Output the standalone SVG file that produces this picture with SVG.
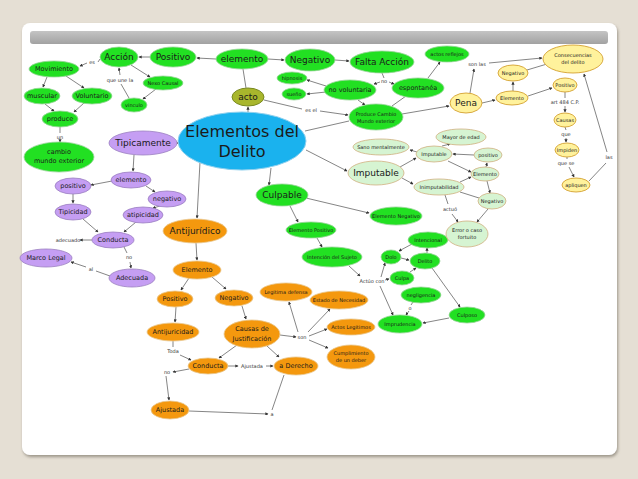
<svg xmlns="http://www.w3.org/2000/svg" width="638" height="479" viewBox="0 0 638 479">
<defs>
<marker id="a" viewBox="0 0 6 6" refX="5" refY="3" markerWidth="4" markerHeight="4" orient="auto"><path d="M0,0L6,3L0,6z" fill="#333"/></marker>
<linearGradient id="bar" x1="0" y1="0" x2="0" y2="1"><stop offset="0" stop-color="#c4c4c4"/><stop offset="1" stop-color="#a2a2a2"/></linearGradient>
<filter id="sh" x="-5%" y="-5%" width="110%" height="115%"><feDropShadow dx="1" dy="2" stdDeviation="1.5" flood-color="#8a8478" flood-opacity="0.8"/></filter>
</defs>
<style>
text{font-family:Verdana,"DejaVu Sans",sans-serif;text-anchor:middle;dominant-baseline:central;fill:#1a1a1a}
.c line,.c path{stroke:#666;stroke-width:0.8;fill:none}
.ar{marker-end:url(#a)}
.g ellipse{fill:#22e022;stroke:#9ad49a;stroke-width:0.8}
.p ellipse{fill:#c59ef3;stroke:#9a7fc0;stroke-width:0.8}
.o ellipse{fill:#f4980e;stroke:#e8c890;stroke-width:0.8}
.y ellipse{fill:#fff29c;stroke:#d4a030;stroke-width:0.9}
.l ellipse{fill:#d6f4d2;stroke:#d0b080;stroke-width:0.8}
.s{font-size:5px}.m{font-size:6.5px}.b{font-size:9px}.lb{font-size:5px;fill:#333}
</style>
<rect width="638" height="479" fill="#e5dfd4"/>
<rect x="22" y="23" width="595" height="432" rx="8" fill="#fff" filter="url(#sh)"/>
<rect x="30" y="31" width="578" height="13" rx="3" fill="url(#bar)"/>

<g class="c">
<line class="ar" x1="150" y1="57" x2="139" y2="57"/>
<line class="ar" x1="216" y1="59" x2="197" y2="58"/>
<line class="ar" x1="268" y1="59" x2="284" y2="60"/>
<line class="ar" x1="335" y1="60" x2="349" y2="61"/>
<line x1="100" y1="59" x2="98" y2="62"/><line class="ar" x1="87" y1="63" x2="80" y2="66"/>
<line class="ar" x1="131" y1="65" x2="150" y2="77"/>
<line x1="129" y1="98" x2="121" y2="84"/><line class="ar" x1="120" y1="75" x2="119" y2="68"/>
<line class="ar" x1="156" y1="89" x2="143" y2="99"/>
<line class="ar" x1="47" y1="77" x2="43" y2="87"/>
<line class="ar" x1="66" y1="76" x2="84" y2="88"/>
<line class="ar" x1="45" y1="104" x2="54" y2="111"/>
<line class="ar" x1="84" y1="103" x2="74" y2="112"/>
<line x1="60" y1="127" x2="60" y2="133"/><line class="ar" x1="60" y1="140" x2="60" y2="142"/>
<line x1="243" y1="69" x2="246" y2="88"/>
<line class="ar" x1="248" y1="113" x2="248" y2="107"/>
<line x1="264" y1="100" x2="302" y2="109"/><line class="ar" x1="320" y1="111" x2="348" y2="115"/>
<line x1="382" y1="73" x2="384" y2="78"/><line class="ar" x1="380" y1="82" x2="374" y2="84"/><line class="ar" x1="389" y1="82" x2="394" y2="84"/>
<line class="ar" x1="326" y1="86" x2="307" y2="80"/>
<line class="ar" x1="326" y1="92" x2="307" y2="94"/>
<line class="ar" x1="358" y1="100" x2="365" y2="105"/>
<line class="ar" x1="428" y1="78" x2="440" y2="62"/>
<line x1="406" y1="96" x2="392" y2="106"/>
<line class="ar" x1="402" y1="114" x2="449" y2="106"/>
<line class="ar" x1="470" y1="93" x2="474" y2="69"/><line class="ar" x1="489" y1="63" x2="542" y2="58"/>
<line class="ar" x1="482" y1="103" x2="495" y2="100"/>
<line class="ar" x1="513" y1="91" x2="513" y2="82"/>
<line x1="527" y1="70" x2="547" y2="64"/>
<line class="ar" x1="528" y1="96" x2="552" y2="88"/>
<line x1="565" y1="92" x2="565" y2="98"/><line class="ar" x1="565" y1="106" x2="565" y2="112"/>
<line x1="565" y1="127" x2="566" y2="130"/><line class="ar" x1="566" y1="138" x2="566" y2="142"/>
<line x1="567" y1="157" x2="567" y2="159"/><line class="ar" x1="569" y1="167" x2="574" y2="177"/>
<line x1="589" y1="181" x2="606" y2="163"/><line class="ar" x1="607" y1="152" x2="584" y2="74"/>
<line x1="305" y1="131" x2="349" y2="121"/>
<line class="ar" x1="306" y1="150" x2="347" y2="171"/>
<line class="ar" x1="400" y1="167" x2="416" y2="158"/>
<line class="ar" x1="402" y1="178" x2="413" y2="184"/>
<line class="ar" x1="417" y1="152" x2="410" y2="150"/>
<line class="ar" x1="442" y1="146" x2="450" y2="144"/>
<line class="ar" x1="474" y1="155" x2="453" y2="154"/>
<line class="ar" x1="448" y1="161" x2="471" y2="172"/>
<line class="ar" x1="486" y1="167" x2="487" y2="163"/>
<line class="ar" x1="460" y1="182" x2="471" y2="177"/>
<line class="ar" x1="487" y1="181" x2="490" y2="193"/>
<line x1="479" y1="198" x2="460" y2="192"/>
<line class="ar" x1="488" y1="209" x2="477" y2="222"/>
<line x1="445" y1="195" x2="448" y2="204"/><line class="ar" x1="452" y1="214" x2="458" y2="222"/>
<line class="ar" x1="271" y1="168" x2="269" y2="185"/>
<line class="ar" x1="306" y1="198" x2="369" y2="213"/>
<line class="ar" x1="290" y1="206" x2="298" y2="222"/>
<line class="ar" x1="317" y1="238" x2="322" y2="247"/>
<line class="ar" x1="349" y1="266" x2="360" y2="276"/>
<line class="ar" x1="381" y1="277" x2="385" y2="263"/>
<line class="ar" x1="385" y1="280" x2="389" y2="279"/>
<line class="ar" x1="380" y1="286" x2="393" y2="315"/>
<line class="ar" x1="401" y1="258" x2="409" y2="260"/>
<line class="ar" x1="412" y1="244" x2="399" y2="251"/>
<line class="ar" x1="427" y1="253" x2="427" y2="248"/>
<line class="ar" x1="410" y1="272" x2="416" y2="268"/>
<line x1="413" y1="302" x2="411" y2="305"/><line class="ar" x1="409" y1="311" x2="406" y2="315"/>
<line class="ar" x1="432" y1="268" x2="460" y2="307"/>
<line class="ar" x1="449" y1="318" x2="423" y2="323"/>
<line class="ar" x1="182" y1="143" x2="177" y2="143"/>
<line class="ar" x1="134" y1="155" x2="133" y2="171"/>
<line class="ar" x1="112" y1="181" x2="91" y2="185"/>
<line class="ar" x1="146" y1="186" x2="155" y2="192"/>
<line class="ar" x1="160" y1="206" x2="153" y2="208"/>
<line class="ar" x1="73" y1="194" x2="73" y2="203"/>
<line class="ar" x1="83" y1="219" x2="98" y2="232"/>
<line class="ar" x1="136" y1="222" x2="124" y2="232"/>
<line class="ar" x1="92" y1="240" x2="80" y2="240"/>
<line x1="124" y1="247" x2="127" y2="253"/><line class="ar" x1="130" y1="262" x2="131" y2="268"/>
<line x1="110" y1="276" x2="96" y2="271"/><line class="ar" x1="86" y1="267" x2="71" y2="262"/>
<line class="ar" x1="200" y1="162" x2="197" y2="218"/>
<line class="ar" x1="196" y1="243" x2="197" y2="260"/>
<line class="ar" x1="189" y1="278" x2="181" y2="290"/>
<line class="ar" x1="212" y1="277" x2="226" y2="289"/>
<line class="ar" x1="176" y1="307" x2="175" y2="322"/>
<line class="ar" x1="242" y1="306" x2="246" y2="319"/>
<line x1="173" y1="341" x2="173" y2="347"/><line class="ar" x1="180" y1="355" x2="191" y2="360"/>
<line class="ar" x1="237" y1="345" x2="219" y2="358"/>
<line class="ar" x1="267" y1="346" x2="279" y2="357"/>
<line class="ar" x1="228" y1="366" x2="238" y2="366"/><line class="ar" x1="266" y1="366" x2="273" y2="366"/>
<line class="ar" x1="189" y1="369" x2="173" y2="372"/><line class="ar" x1="166" y1="376" x2="169" y2="400"/>
<line class="ar" x1="189" y1="411" x2="268" y2="414"/><line x1="284" y1="375" x2="272" y2="410"/>
<line class="ar" x1="280" y1="335" x2="296" y2="337"/>
<line class="ar" x1="298" y1="332" x2="289" y2="302"/>
<line class="ar" x1="308" y1="332" x2="330" y2="309"/>
<line class="ar" x1="309" y1="336" x2="327" y2="329"/>
<line class="ar" x1="309" y1="340" x2="328" y2="348"/>
</g>

<g class="lbls">
<text class="lb" x="92" y="62">es</text>
<text class="lb" x="120" y="80">que une la</text>
<text class="lb" x="60" y="137">un</text>
<text class="lb" x="384" y="81">no</text>
<text class="lb" x="311" y="110">es el</text>
<text class="lb" x="477" y="64">son las</text>
<text class="lb" x="565" y="102">art 484 C.P.</text>
<text class="lb" x="566" y="134">que</text>
<text class="lb" x="566" y="163">que se</text>
<text class="lb" x="609" y="157">las</text>
<text class="lb" x="450" y="209">actuó</text>
<text class="lb" x="372" y="281">Actúo con</text>
<text class="lb" x="410" y="308">o</text>
<text class="lb" x="68" y="240">adecuado</text>
<text class="lb" x="129" y="257">no</text>
<text class="lb" x="91" y="269">al</text>
<text class="lb" x="173" y="351">Toda</text>
<text class="lb" x="167" y="372">no</text>
<text class="lb" x="252" y="366">Ajustada</text>
<text class="lb" x="302" y="337">son</text>
<text class="lb" x="272" y="414">a</text>
</g>

<g id="elementos-del-delito"><ellipse cx="242" cy="141" rx="64" ry="29" fill="#1ab2ee" stroke="#8fd0ee"/><text x="242" y="131" style="font-size:16px">Elementos del</text><text x="242" y="151" style="font-size:16px">Delito</text></g>

<g class="g">
<g id="accion"><ellipse cx="119" cy="57" rx="19" ry="10"/><text class="b" x="119" y="57">Acción</text></g>
<g id="positivo-g"><ellipse cx="173" cy="57" rx="23" ry="10"/><text class="b" x="173" y="57">Positivo</text></g>
<g id="elemento-g"><ellipse cx="242" cy="59" rx="26" ry="10"/><text class="b" x="242" y="59">elemento</text></g>
<g id="negativo-g"><ellipse cx="310" cy="60" rx="25" ry="11"/><text class="b" x="310" y="60">Negativo</text></g>
<g id="falta-accion"><ellipse cx="382" cy="62" rx="32" ry="11"/><text class="b" x="382" y="62">Falta Acción</text></g>
<g id="actos-reflejos"><ellipse cx="447" cy="54" rx="22" ry="8"/><text class="s" x="447" y="54">actos reflejos</text></g>
<g id="movimiento"><ellipse cx="54" cy="69" rx="25" ry="8"/><text class="m" x="54" y="69">Movimiento</text></g>
<g id="nexo-causal"><ellipse cx="163" cy="83" rx="20" ry="7"/><text class="s" x="163" y="83">Nexo Causal</text></g>
<g id="vinculo"><ellipse cx="134" cy="105" rx="13" ry="7"/><text class="s" x="134" y="105">vinculo</text></g>
<g id="muscular"><ellipse cx="42" cy="96" rx="18" ry="8"/><text class="m" x="42" y="96">muscular</text></g>
<g id="voluntario"><ellipse cx="92" cy="96" rx="20" ry="8"/><text class="m" x="92" y="96">Voluntario</text></g>
<g id="produce"><ellipse cx="60" cy="119" rx="18" ry="8"/><text class="m" x="60" y="119">produce</text></g>
<g id="cambio"><ellipse cx="59" cy="157" rx="35" ry="15"/><text class="m" x="59" y="152">cambio</text><text class="m" x="59" y="161">mundo exterior</text></g>
<g id="hipnosis"><ellipse cx="292" cy="78" rx="15" ry="6"/><text class="s" x="292" y="78">hipnosis</text></g>
<g id="sueno"><ellipse cx="294" cy="94" rx="12" ry="6"/><text class="s" x="294" y="94">sueño</text></g>
<g id="no-voluntaria"><ellipse cx="350" cy="90" rx="26" ry="10"/><text class="m" x="350" y="90">no voluntaria</text></g>
<g id="espontanea"><ellipse cx="418" cy="88" rx="26" ry="10"/><text class="m" x="418" y="88">espontanéa</text></g>
<g id="produce-cambio"><ellipse cx="376" cy="117" rx="27" ry="13"/><text class="s" x="376" y="114">Produce Cambio</text><text class="s" x="376" y="121">Mundo exterior</text></g>
<g id="culpable"><ellipse cx="282" cy="195" rx="26" ry="11"/><text class="b" x="282" y="195">Culpable</text></g>
<g id="elemento-negativo"><ellipse cx="396" cy="216" rx="26" ry="9"/><text class="s" x="396" y="216">Elemento Negativo</text></g>
<g id="elemento-positivo"><ellipse cx="311" cy="230" rx="25" ry="8"/><text class="s" x="311" y="230">Elemento Positivo</text></g>
<g id="intencion"><ellipse cx="332" cy="257" rx="30" ry="10"/><text class="s" x="332" y="257">Intención del Sujeto</text></g>
<g id="intencional"><ellipse cx="428" cy="240" rx="20" ry="8"/><text class="s" x="428" y="240">Intencional</text></g>
<g id="dolo"><ellipse cx="391" cy="257" rx="10" ry="7"/><text class="s" x="391" y="257">Dolo</text></g>
<g id="delito"><ellipse cx="425" cy="261" rx="15" ry="8"/><text class="s" x="425" y="261">Delito</text></g>
<g id="culpa"><ellipse cx="402" cy="278" rx="12" ry="7"/><text class="s" x="402" y="278">Culpa</text></g>
<g id="negligencia"><ellipse cx="421" cy="295" rx="20" ry="8"/><text class="s" x="421" y="295">negligencia</text></g>
<g id="imprudencia"><ellipse cx="400" cy="324" rx="22" ry="9"/><text class="s" x="400" y="324">Imprudencia</text></g>
<g id="culposo"><ellipse cx="467" cy="315" rx="18" ry="8"/><text class="s" x="467" y="315">Culposo</text></g>
</g>
<g id="acto"><ellipse cx="248" cy="97" rx="16" ry="9" fill="#a8b62c" stroke="#7a8a20"/><text class="b" x="248" y="97">acto</text></g>

<g class="p">
<g id="tipicamente"><ellipse cx="143" cy="143" rx="34" ry="12"/><text class="b" x="143" y="143">Tipicamente</text></g>
<g id="elemento-p"><ellipse cx="131" cy="180" rx="20" ry="8"/><text class="m" x="131" y="180">elemento</text></g>
<g id="positivo-p"><ellipse cx="73" cy="186" rx="18" ry="8"/><text class="m" x="73" y="186">positivo</text></g>
<g id="negativo-p"><ellipse cx="167" cy="199" rx="19" ry="8"/><text class="m" x="167" y="199">negativo</text></g>
<g id="tipicidad"><ellipse cx="73" cy="212" rx="18" ry="8"/><text class="m" x="73" y="212">Tipicidad</text></g>
<g id="atipicidad"><ellipse cx="143" cy="215" rx="20" ry="8"/><text class="m" x="143" y="215">atipicidad</text></g>
<g id="conducta-p"><ellipse cx="113" cy="240" rx="21" ry="8"/><text class="m" x="113" y="240">Conducta</text></g>
<g id="marco-legal"><ellipse cx="46" cy="258" rx="26" ry="9"/><text class="m" x="46" y="258">Marco Legal</text></g>
<g id="adecuada"><ellipse cx="132" cy="278" rx="23" ry="9"/><text class="m" x="132" y="278">Adecuada</text></g>
</g>

<g class="o">
<g id="antijuridico"><ellipse cx="195" cy="231" rx="32" ry="12"/><text class="b" x="195" y="231">Antijurídico</text></g>
<g id="elemento-o"><ellipse cx="197" cy="270" rx="24" ry="9"/><text class="m" x="197" y="270">Elemento</text></g>
<g id="positivo-o"><ellipse cx="175" cy="299" rx="18" ry="8"/><text class="m" x="175" y="299">Positivo</text></g>
<g id="negativo-o"><ellipse cx="234" cy="298" rx="19" ry="8"/><text class="m" x="234" y="298">Negativo</text></g>
<g id="antijuricidad"><ellipse cx="173" cy="332" rx="26" ry="9"/><text class="m" x="173" y="332">Antijuricidad</text></g>
<g id="causas-just"><ellipse cx="252" cy="334" rx="28" ry="14"/><text class="m" x="252" y="329">Causas de</text><text class="m" x="252" y="339">Justificación</text></g>
<g id="legitima"><ellipse cx="286" cy="292" rx="26" ry="9"/><text class="s" x="286" y="292">Legitima defensa</text></g>
<g id="estado"><ellipse cx="339" cy="300" rx="29" ry="9"/><text class="s" x="339" y="300">Estado de Necesidad</text></g>
<g id="actos-legitimos"><ellipse cx="351" cy="327" rx="24" ry="8"/><text class="s" x="351" y="327">Actos Legitimos</text></g>
<g id="cumplimiento"><ellipse cx="351" cy="357" rx="24" ry="12"/><text class="s" x="351" y="353">Cumplimiento</text><text class="s" x="351" y="360">de un deber</text></g>
<g id="conducta-o"><ellipse cx="208" cy="366" rx="20" ry="8"/><text class="m" x="208" y="366">Conducta</text></g>
<g id="a-derecho"><ellipse cx="296" cy="366" rx="22" ry="9"/><text class="m" x="296" y="366">a Derecho</text></g>
<g id="ajustada"><ellipse cx="170" cy="410" rx="19" ry="9"/><text class="m" x="170" y="410">Ajustada</text></g>
</g>

<g class="y">
<g id="pena"><ellipse cx="466" cy="103" rx="16" ry="10"/><text class="b" x="466" y="103">Pena</text></g>
<g id="consecuencias"><ellipse cx="573" cy="59" rx="30" ry="14"/><text class="s" x="573" y="55">Consecuencias</text><text class="s" x="573" y="62">del delito</text></g>
<g id="negativo-y"><ellipse cx="513" cy="73" rx="15" ry="8"/><text class="s" x="513" y="73">Negativo</text></g>
<g id="elemento-y"><ellipse cx="512" cy="98" rx="16" ry="7"/><text class="s" x="512" y="98">Elemento</text></g>
<g id="positivo-y"><ellipse cx="565" cy="85" rx="12" ry="7"/><text class="s" x="565" y="85">Positivo</text></g>
<g id="causas"><ellipse cx="565" cy="120" rx="11" ry="7"/><text class="s" x="565" y="120">Causas</text></g>
<g id="impiden"><ellipse cx="567" cy="150" rx="12" ry="7"/><text class="s" x="567" y="150">Impiden</text></g>
<g id="apliquen"><ellipse cx="576" cy="185" rx="14" ry="7"/><text class="s" x="576" y="185">apliquen</text></g>
</g>

<g class="l">
<g id="mayor-de-edad"><ellipse cx="461" cy="137" rx="25" ry="8"/><text class="s" x="461" y="137">Mayor de edad</text></g>
<g id="sano"><ellipse cx="381" cy="147" rx="28" ry="8"/><text class="s" x="381" y="147">Sano mentalmente</text></g>
<g id="imputable-s"><ellipse cx="434" cy="154" rx="18" ry="8"/><text class="s" x="434" y="154">Imputable</text></g>
<g id="positivo-l"><ellipse cx="488" cy="155" rx="14" ry="7"/><text class="s" x="488" y="155">positivo</text></g>
<g id="imputable"><ellipse cx="376" cy="173" rx="28" ry="12"/><text class="b" x="376" y="173">Imputable</text></g>
<g id="elemento-l"><ellipse cx="485" cy="174" rx="14" ry="7"/><text class="s" x="485" y="174">Elemento</text></g>
<g id="inimputabilidad"><ellipse cx="439" cy="187" rx="25" ry="8"/><text class="s" x="439" y="187">Inimputabilidad</text></g>
<g id="negativo-l"><ellipse cx="492" cy="201" rx="14" ry="8"/><text class="s" x="492" y="201">Negativo</text></g>
<g id="error"><ellipse cx="467" cy="234" rx="21" ry="13"/><text class="s" x="467" y="230">Error o caso</text><text class="s" x="467" y="237">fortuito</text></g>
</g>
</svg>
